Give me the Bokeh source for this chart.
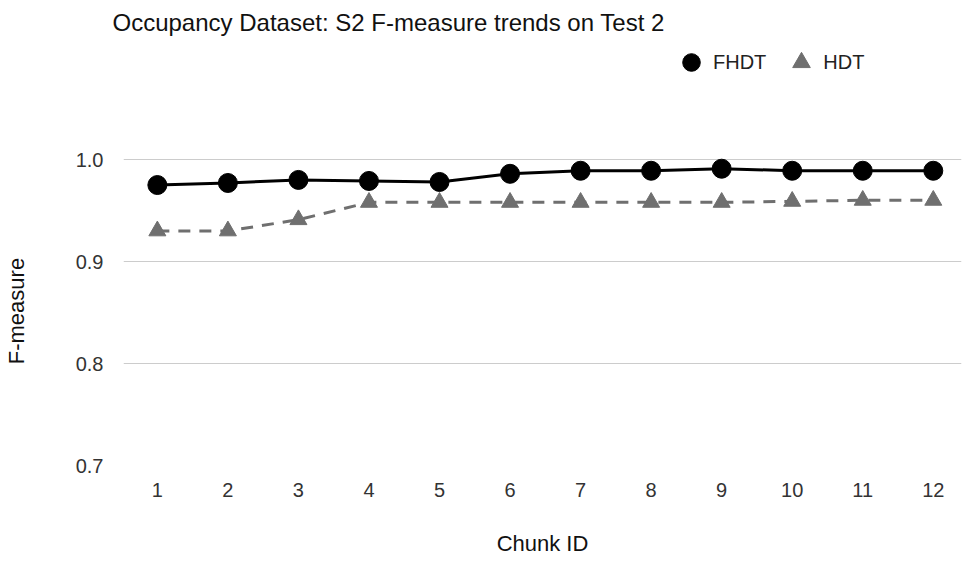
from bokeh.plotting import figure
from bokeh.models import Range1d, FixedTicker, Legend, LegendItem, ColumnDataSource, PrintfTickFormatter
from bokeh.embed import file_html
from bokeh.resources import INLINE

chunks = [1, 2, 3, 4, 5, 6, 7, 8, 9, 10, 11, 12]
fhdt = [0.975, 0.977, 0.980, 0.979, 0.978, 0.986, 0.989, 0.989, 0.991, 0.989, 0.989, 0.989]
hdt = [0.930, 0.930, 0.941, 0.958, 0.958, 0.958, 0.958, 0.958, 0.958, 0.959, 0.960, 0.960]
y_ticks = [0.7, 0.8, 0.9, 1.0]

FONT = "Liberation Sans"

src = ColumnDataSource(dict(x=chunks, fhdt=fhdt, hdt=hdt))

p = figure(frame_width=838, frame_height=425, output_backend="svg", toolbar_location=None,
           x_range=Range1d(0.52, 12.4), y_range=Range1d(0.7, 1.1167),
           min_border_left=114, min_border_right=2, min_border_top=40, min_border_bottom=93)

p.title.text = "Occupancy Dataset: S2 F-measure trends on Test 2"
p.title.text_font = FONT
p.title.text_font_size = "24px"
p.title.text_font_style = "normal"
p.title.text_color = "#111111"
p.title.align = "left"
p.title.offset = -11

p.outline_line_color = None
p.background_fill_color = "white"
p.border_fill_color = "white"

p.xgrid.grid_line_color = None
p.ygrid.grid_line_color = "#cccccc"
p.ygrid.grid_line_width = 1
p.ygrid.ticker = FixedTicker(ticks=y_ticks)

p.yaxis.ticker = FixedTicker(ticks=y_ticks)
p.yaxis.formatter = PrintfTickFormatter(format="%.1f")
p.xaxis.ticker = FixedTicker(ticks=chunks)
for ax in (p.xaxis[0], p.yaxis[0]):
    ax.axis_line_color = None
    ax.major_tick_line_color = None
    ax.minor_tick_line_color = None
    ax.major_label_text_font = FONT
    ax.major_label_text_font_size = "20px"
    ax.major_label_text_color = "#333333"
    ax.axis_label_text_font = FONT
    ax.axis_label_text_font_size = "22px"
    ax.axis_label_text_font_style = "normal"
    ax.axis_label_text_color = "#111111"
p.yaxis.major_label_standoff = 14
p.xaxis.major_label_standoff = 11
p.xaxis.axis_label = "Chunk ID"
p.xaxis.axis_label_standoff = 31
# trailing no-break spaces centre the visible label on the 0.7-1.0 grid area
p.yaxis.axis_label = "F-measure" + "\u00a0" * 19
p.yaxis.axis_label_standoff = 44

p.line("x", "hdt", source=src, line_color="#6f6f6f", line_width=3, line_dash="12 9")
r_hdt = p.scatter("x", "hdt", source=src, marker="triangle", size=17,
                  fill_color="#6f6f6f", line_color="#6f6f6f")
p.line("x", "fhdt", source=src, line_color="#000000", line_width=3)
r_fhdt = p.scatter("x", "fhdt", source=src, marker="circle", size=19,
                   fill_color="#000000", line_color="#000000")

legend = Legend(items=[LegendItem(label="FHDT", renderers=[r_fhdt]),
                       LegendItem(label="HDT", renderers=[r_hdt])],
                location=(546, 381), orientation="horizontal",
                padding=0, margin=0, spacing=13, glyph_width=44, glyph_height=44,
                label_standoff=0, label_text_font=FONT, label_text_font_size="20px",
                label_text_color="#222222", background_fill_alpha=0, border_line_color=None)
p.add_layout(legend, "center")

open("out.html", "w").write(file_html(p, INLINE))
